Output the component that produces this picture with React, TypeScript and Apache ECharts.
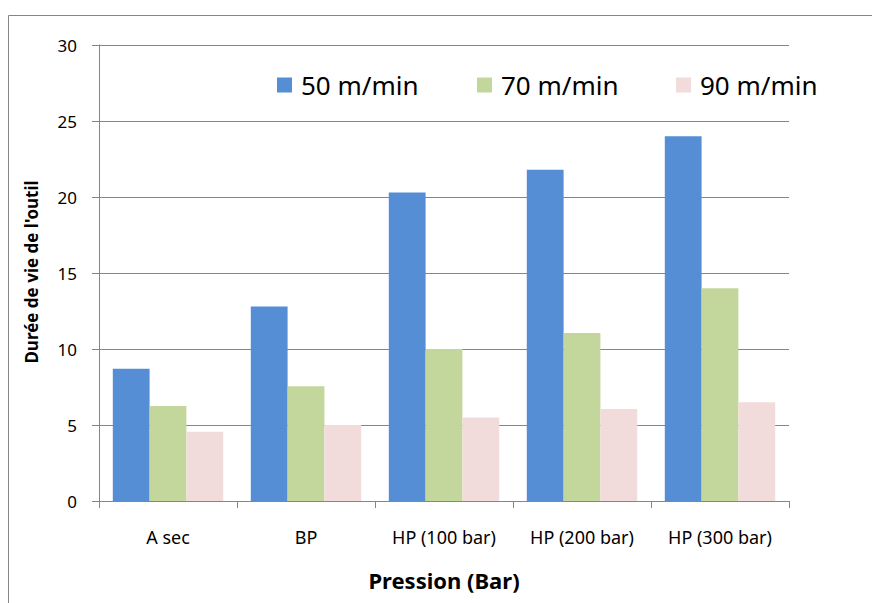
import React, { useEffect, useRef } from "react";
import * as echarts from "echarts";

const categories = ["A sec", "BP", "HP (100 bar)", "HP (200 bar)", "HP (300 bar)"];
const seriesNames = ["50 m/min", "70 m/min", "90 m/min"];
const v50 = [8.7, 12.8, 20.3, 21.8, 24.0];
const v70 = [6.25, 7.55, 10.0, 11.05, 14.0];
const v90 = [4.55, 5.0, 5.5, 6.05, 6.5];
const colors = ["#558ED5", "#C3D69B", "#F2DCDB"];
const yTicks = { min: 0, max: 30, interval: 5 };

const FONT = "Noto Sans";

export default function App() {
  const ref = useRef<HTMLDivElement>(null);
  useEffect(() => {
    if (!ref.current) return;
    const chart = echarts.init(ref.current, undefined, { renderer: "svg" });
    const values = [v50, v70, v90];
    const legendLefts = [272, 472, 671];
    chart.setOption({
      animation: false,
      textStyle: { fontFamily: FONT },
      grid: { left: 99, right: 83, top: 45, bottom: 102, containLabel: false },
      legend: seriesNames.map((n, i) => ({
        data: [n],
        left: legendLefts[i],
        top: 67,
        itemWidth: 15,
        itemHeight: 15,
        icon: "rect",
        itemGap: 0,
        textStyle: { fontFamily: FONT, fontSize: 26, color: "#000", padding: [0, 0, 0, 4] },
        selectedMode: false,
      })),
      xAxis: {
        type: "category",
        data: categories,
        axisLine: { lineStyle: { color: "#868686", width: 1 } },
        axisTick: { show: true, length: 7, lineStyle: { color: "#868686" }, alignWithLabel: false },
        axisLabel: { color: "#000", fontSize: 18, margin: 27, fontFamily: FONT },
        name: "Pression (Bar)",
        nameLocation: "middle",
        nameGap: 68,
        nameTextStyle: { fontSize: 22, fontWeight: "bold", color: "#000", fontFamily: FONT },
      },
      yAxis: {
        type: "value",
        min: yTicks.min,
        max: yTicks.max,
        interval: yTicks.interval,
        axisLine: { show: true, lineStyle: { color: "#868686", width: 1 } },
        axisTick: { show: true, length: 7, lineStyle: { color: "#868686" } },
        splitLine: { show: true, lineStyle: { color: "#868686", width: 1 } },
        axisLabel: { color: "#000", fontSize: 17, margin: 22, fontFamily: FONT },
      },
      graphic: [
        {
          type: "polyline",
          shape: { points: [[8.5, 603], [8.5, 15.5], [872, 15.5]] },
          style: { stroke: "#868686", lineWidth: 1, fill: "none" },
          silent: true,
        },
        {
          type: "text",
          x: 31,
          y: 272,
          rotation: Math.PI / 2,
          style: {
            text: "Durée de vie de l'outil",
            fontFamily: FONT,
            fontSize: 17,
            fontWeight: "bold",
            fill: "#000",
            align: "center",
            verticalAlign: "middle",
          },
        },
      ],
      series: seriesNames.map((n, i) => ({
        name: n,
        type: "bar",
        data: values[i],
        barGap: "0%",
        barCategoryGap: "20%",
        itemStyle: { color: colors[i] },
      })),
    });
    return () => chart.dispose();
  }, []);
  return <div ref={ref} style={{ width: 872, height: 603, position: "absolute", left: 0, top: 0, background: "#fff" }} />;
}
